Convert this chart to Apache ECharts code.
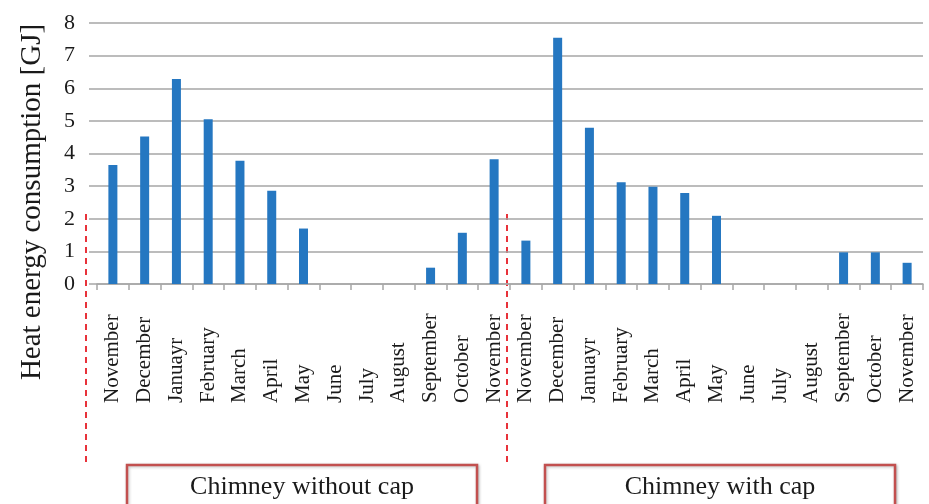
<!DOCTYPE html>
<html>
<head>
<meta charset="utf-8">
<script src="https://cdn.jsdelivr.net/npm/echarts@6/dist/echarts.min.js"></script>
<style>
html,body{margin:0;padding:0;background:#fff;}
#main{width:929px;height:504px;}
</style>
</head>
<body>
<div id="main"></div>
<script>
var categories = ["November","December","Januayr","February","March","April","May","June","July","August","September","October","November",
                  "November","December","Januayr","February","March","April","May","June","July","August","September","October","November"];
var withoutCap = [3.65, 4.52, 6.28, 5.05, 3.78, 2.86, 1.70, 0, 0, 0, 0.50, 1.57, 3.82];
var withCap = [1.33, 7.55, 4.79, 3.12, 2.98, 2.79, 2.09, 0, 0, 0, 0.97, 0.97, 0.65];
var yTicks = [0, 1, 2, 3, 4, 5, 6, 7, 8];
var yTitle = 'Heat energy consumption [GJ]';
var groupLabels = ["Chimney without cap", "Chimney with cap"];

var values = withoutCap.concat(withCap);
var serif = '"Liberation Serif", "Times New Roman", serif';

var chart = echarts.init(document.getElementById('main'));
chart.setOption({
  animation: false,
  backgroundColor: '#ffffff',
  grid: { left: 97, right: 6, top: 23, bottom: 220, containLabel: false, outerBoundsMode: 'none' },
  xAxis: {
    type: 'category',
    data: categories,
    boundaryGap: true,
    axisLine: { show: true, lineStyle: { color: '#a6a6a6', width: 1.5 } },
    axisTick: { show: true, length: 6, lineStyle: { color: '#a6a6a6', width: 1.5 }, alignWithLabel: false },
    axisLabel: {
      interval: 0, rotate: 90, align: 'left', verticalAlign: 'middle', margin: 119,
      fontFamily: serif, fontSize: 21, color: '#1a1a1a'
    }
  },
  yAxis: {
    type: 'value',
    min: yTicks[0], max: yTicks[yTicks.length - 1], interval: 1,
    axisLine: { show: false },
    axisTick: { show: true, length: 8, lineStyle: { color: '#a6a6a6', width: 1.5 } },
    axisLabel: { fontFamily: serif, fontSize: 22, color: '#1a1a1a', margin: 22 },
    splitLine: { show: true, lineStyle: { color: '#a6a6a6', width: 1.5 } }
  },
  series: [{
    type: 'bar',
    data: values,
    barWidth: 9,
    itemStyle: { color: '#2577c1' }
  }],
  graphic: [
    { type: 'text', x: 32, y: 202, rotation: Math.PI / 2,
      style: { text: yTitle, fontFamily: serif, fontSize: 29, fill: '#1a1a1a', textAlign: 'center', textVerticalAlign: 'middle' } },
    { type: 'line', shape: { x1: 86, y1: 214, x2: 86, y2: 464 },
      style: { stroke: '#e8323a', lineWidth: 2, lineDash: [6, 5] } },
    { type: 'line', shape: { x1: 507, y1: 214, x2: 507, y2: 464 },
      style: { stroke: '#e8323a', lineWidth: 2, lineDash: [6, 5] } },
    { type: 'rect', shape: { x: 127, y: 465, width: 350, height: 50 },
      style: { fill: '#ffffff', stroke: '#c2504f', lineWidth: 2.5, shadowBlur: 3, shadowColor: 'rgba(0,0,0,0.25)', shadowOffsetX: 1, shadowOffsetY: 1 } },
    { type: 'text', x: 302, y: 487, style: { text: groupLabels[0], fontFamily: serif, fontSize: 26, fill: '#1a1a1a', textAlign: 'center', textVerticalAlign: 'middle' } },
    { type: 'rect', shape: { x: 545, y: 465, width: 350, height: 50 },
      style: { fill: '#ffffff', stroke: '#c2504f', lineWidth: 2.5, shadowBlur: 3, shadowColor: 'rgba(0,0,0,0.25)', shadowOffsetX: 1, shadowOffsetY: 1 } },
    { type: 'text', x: 720, y: 487, style: { text: groupLabels[1], fontFamily: serif, fontSize: 26, fill: '#1a1a1a', textAlign: 'center', textVerticalAlign: 'middle' } }
  ]
});
</script>
</body>
</html>
